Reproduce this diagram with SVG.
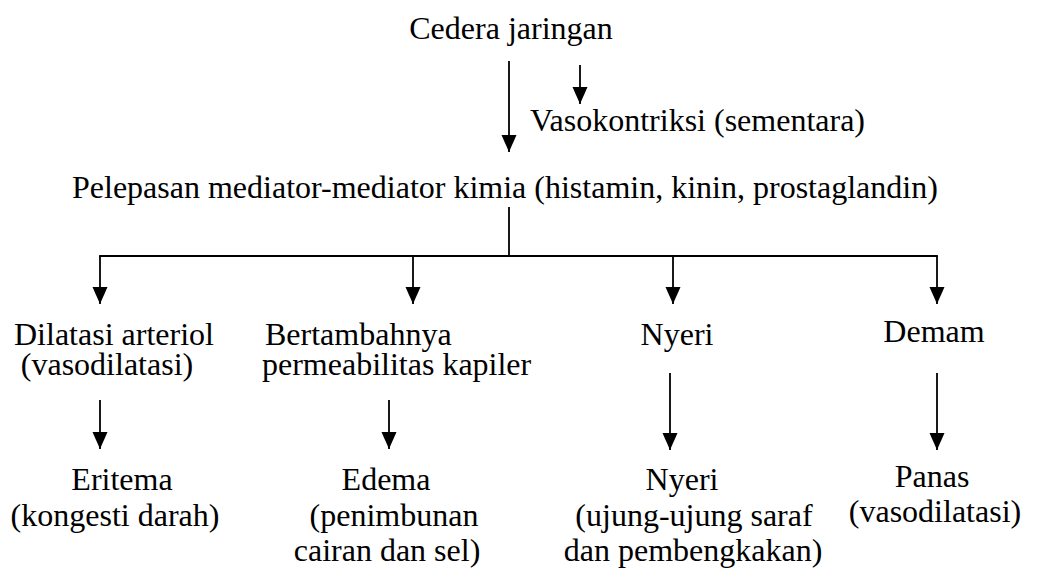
<svg xmlns="http://www.w3.org/2000/svg" width="1037" height="569" viewBox="0 0 1037 569">
<style>
text{font-family:"Liberation Serif","Times New Roman",serif;font-size:32px;fill:#000}
.m{text-anchor:middle}
.c line{stroke:#000;stroke-width:1.8;fill:none}
.c .a{marker-end:url(#ah)}
</style>
<defs>
<marker id="ah" markerUnits="userSpaceOnUse" markerWidth="18" markerHeight="16" refX="17" refY="7.5" orient="auto">
<path d="M0,0 L17,7.5 L0,15 Z" fill="#000"/>
</marker>
</defs>
<rect width="1037" height="569" fill="#fff"/>
<g class="c" id="connectors">
<line class="a" x1="509" y1="61" x2="509" y2="152"/>
<line class="a" x1="580" y1="65" x2="580" y2="104"/>
<line x1="509" y1="207" x2="509" y2="256"/>
<line x1="99.1" y1="256" x2="937.9" y2="256"/>
<line class="a" x1="100" y1="256" x2="100" y2="304"/>
<line class="a" x1="413" y1="256" x2="413" y2="304"/>
<line class="a" x1="673" y1="256" x2="673" y2="304"/>
<line class="a" x1="937" y1="256" x2="937" y2="304"/>
<line class="a" x1="100" y1="400" x2="100" y2="449"/>
<line class="a" x1="389" y1="400" x2="389" y2="449"/>
<line class="a" x1="670" y1="373" x2="670" y2="450"/>
<line class="a" x1="937" y1="373" x2="937" y2="450"/>
</g>
<g id="n-cedera"><text class="m" x="511" y="39">Cedera jaringan</text></g>
<g id="n-vaso"><text x="530" y="131">Vasokontriksi (sementara)</text></g>
<g id="n-pelepasan"><text x="72" y="198">Pelepasan mediator-mediator kimia (histamin, kinin, prostaglandin)</text></g>
<g id="n-dilatasi"><text x="14" y="345">Dilatasi arteriol</text><text class="m" x="107" y="375">(vasodilatasi)</text></g>
<g id="n-bertambah"><text x="265" y="345">Bertambahnya</text><text x="262" y="375">permeabilitas kapiler</text></g>
<g id="n-nyeri1"><text class="m" x="677" y="345">Nyeri</text></g>
<g id="n-demam"><text class="m" x="934" y="342">Demam</text></g>
<g id="n-eritema"><text class="m" x="122" y="490">Eritema</text><text class="m" x="115" y="526">(kongesti darah)</text></g>
<g id="n-edema"><text class="m" x="386" y="490">Edema</text><text class="m" x="394" y="526">(penimbunan</text><text class="m" x="387" y="561">cairan dan sel)</text></g>
<g id="n-nyeri2"><text class="m" x="682" y="490">Nyeri</text><text class="m" x="694" y="526">(ujung-ujung saraf</text><text class="m" x="693" y="561">dan pembengkakan)</text></g>
<g id="n-panas"><text class="m" x="932" y="487">Panas</text><text class="m" x="935" y="522">(vasodilatasi)</text></g>
</svg>
